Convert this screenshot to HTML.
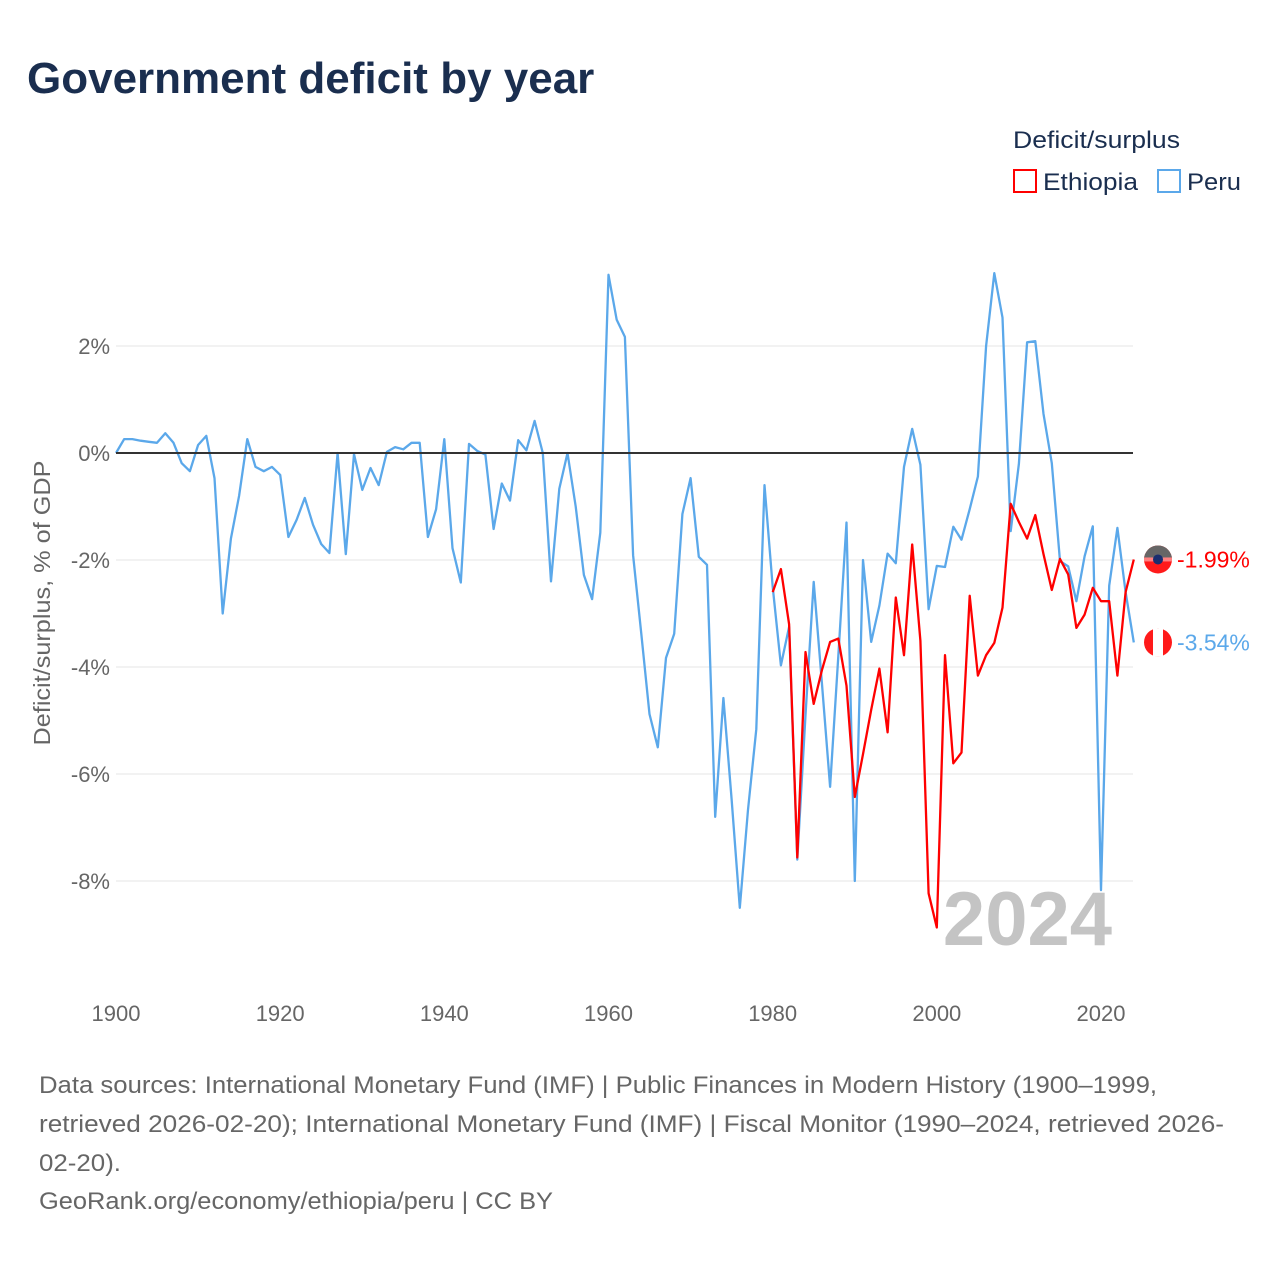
<!DOCTYPE html>
<html><head><meta charset="utf-8">
<style>
body{margin:0;background:#fff;width:1280px;height:1280px;overflow:hidden;font-family:"Liberation Sans",sans-serif;}
svg{display:block}
</style></head>
<body>
<svg id="chart" width="1280" height="1280" xmlns="http://www.w3.org/2000/svg">
<text x="27" y="93" font-size="44" font-weight="bold" fill="#1a2e4f">Government deficit by year</text>
<g>
<text x="1013" y="148" font-size="24" fill="#1a2e4f" textLength="167" lengthAdjust="spacingAndGlyphs">Deficit/surplus</text>
<rect x="1014" y="170" width="22" height="22" fill="none" stroke="#ff0000" stroke-width="2"/>
<text x="1043" y="190" font-size="24" fill="#1a2e4f" textLength="95" lengthAdjust="spacingAndGlyphs">Ethiopia</text>
<rect x="1158" y="170" width="22" height="22" fill="none" stroke="#5ba8ea" stroke-width="2"/>
<text x="1187" y="190" font-size="24" fill="#1a2e4f" textLength="54" lengthAdjust="spacingAndGlyphs">Peru</text>
</g>
<g id="grid"></g>
<text x="1112" y="945" font-size="76" font-weight="bold" fill="#c4c4c4" text-anchor="end">2024</text>
<g id="series"></g>
<g id="axes"></g>
<text transform="translate(50,603) rotate(-90)" font-size="23" fill="#666" text-anchor="middle" textLength="285" lengthAdjust="spacingAndGlyphs">Deficit/surplus, % of GDP</text>
<g font-size="24" fill="#666">
<text x="39" y="1093" textLength="1118" lengthAdjust="spacingAndGlyphs">Data sources: International Monetary Fund (IMF) | Public Finances in Modern History (1900–1999,</text>
<text x="39" y="1132" textLength="1185" lengthAdjust="spacingAndGlyphs">retrieved 2026-02-20); International Monetary Fund (IMF) | Fiscal Monitor (1990–2024, retrieved 2026-</text>
<text x="39" y="1171" textLength="82" lengthAdjust="spacingAndGlyphs">02-20).</text>
<text x="39" y="1209" textLength="514" lengthAdjust="spacingAndGlyphs">GeoRank.org/economy/ethiopia/peru | CC BY</text>
</g>
</svg>
<script>
const peruYears=[];for(let y=1900;y<=2024;y++)peruYears.push(y);
const peruValues=[0,0.26,0.26,0.23,0.21,0.19,0.37,0.19,-0.19,-0.34,0.15,0.32,-0.47,-3.0,-1.6,-0.8,0.26,-0.26,-0.34,-0.26,
-0.41,-1.57,-1.25,-0.84,-1.34,-1.7,-1.87,0,-1.89,-0.02,-0.69,-0.28,-0.6,0.02,0.11,0.07,0.19,0.19,-1.57,-1.05,
0.26,-1.78,-2.42,0.17,0.04,-0.03,-1.42,-0.57,-0.89,0.24,0.05,0.6,0,-2.4,-0.67,0,-1.0,-2.28,-2.73,-1.49,
3.33,2.49,2.17,-1.91,-3.38,-4.88,-5.5,-3.83,-3.38,-1.14,-0.47,-1.94,-2.09,-6.8,-4.58,-6.47,-8.5,-6.67,-5.16,-0.6,
-2.5,-3.97,-3.25,-7.6,-4.9,-2.41,-4.3,-6.24,-3.8,-1.3,-8.0,-2.0,-3.53,-2.85,-1.88,-2.06,-0.26,0.45,-0.22,-2.92,
-2.11,-2.13,-1.38,-1.62,-1.05,-0.44,2.0,3.36,2.53,-1.46,-0.2,2.07,2.09,0.73,-0.19,-2.02,-2.12,-2.77,-1.93,-1.37,
-8.17,-2.48,-1.4,-2.6,-3.54];
const ethYears=[];for(let y=1980;y<=2024;y++)ethYears.push(y);
const ethValues=[-2.6,-2.17,-3.2,-7.56,-3.72,-4.69,-4.06,-3.53,-3.47,-4.35,-6.43,-5.63,-4.8,-4.03,-5.22,-2.7,-3.78,-1.71,-3.51,-8.23,
-8.87,-3.78,-5.8,-5.6,-2.67,-4.16,-3.78,-3.55,-2.89,-0.95,-1.29,-1.6,-1.16,-1.89,-2.56,-1.98,-2.27,-3.27,-3.02,-2.52,
-2.77,-2.77,-4.16,-2.6,-1.99];
const yTicks=[2,0,-2,-4,-6,-8];
const xTicks=[1900,1920,1940,1960,1980,2000,2020];
const NS="http://www.w3.org/2000/svg";
const X=yr=>116+(yr-1900)*(985/120);
const Y=v=>453-v*53.5;
const grid=document.getElementById('grid'),axes=document.getElementById('axes'),series=document.getElementById('series');
function mk(tag,attrs,parent){const e=document.createElementNS(NS,tag);for(const k in attrs)e.setAttribute(k,attrs[k]);parent.appendChild(e);return e;}
yTicks.forEach(v=>{
  if(v!==0){const l=mk('line',{x1:116,x2:1133,y1:Y(v),y2:Y(v),stroke:'#e6e6e6','stroke-width':1},grid);
  
  }
  const t=mk('text',{x:110,y:Y(v)+8,'font-size':22,fill:'#666','text-anchor':'end'},axes);
  t.textContent=v+'%';
  
  
});
const zl=mk('line',{x1:116,x2:1133,y1:Y(0),y2:Y(0),stroke:'#333','stroke-width':2},axes);


xTicks.forEach(yr=>{
  const t=mk('text',{x:X(yr),y:1021,'font-size':22,fill:'#666','text-anchor':'middle'},axes);
  t.textContent=yr;
  
  
});
function line(years,vals,color,name){
  const d=years.map((y,i)=>(i?'L':'M')+X(y).toFixed(1)+','+Y(vals[i]).toFixed(1)).join('');
  const p=mk('path',{d:d,fill:'none',stroke:color,'stroke-width':2.3,'stroke-linejoin':'round'},series);
  
  
}
line(peruYears,peruValues,'#5ba8ea','peru-line');
line(ethYears,ethValues,'#ff0000','ethiopia-line');
const ey=Y(ethValues[ethValues.length-1]),py=Y(peruValues[peruValues.length-1]);
const ef=mk('g',{},series);


mk('circle',{cx:1158,cy:ey,r:14,fill:'#ff1a1a'},ef);
mk('path',{d:`M1144,${ey} A14,14 0 0 1 1172,${ey} Z`,fill:'#666'},ef);
mk('rect',{x:1144,y:ey-2,width:28,height:4,fill:'#ff8080'},ef);
mk('circle',{cx:1158,cy:ey,r:5,fill:'#1a2e6f'},ef);
const et=mk('text',{x:1177,y:ey+8,'font-size':23,fill:'#ff0000'},series);
et.textContent='-1.99%';


const pf=mk('g',{},series);


mk('circle',{cx:1158,cy:py,r:14,fill:'#ff1a1a'},pf);
mk('rect',{x:1153,y:py-14,width:10,height:28,fill:'#fff'},pf);
const pt=mk('text',{x:1177,y:py+8,'font-size':23,fill:'#5ba8ea'},series);
pt.textContent='-3.54%';


</script>
</body></html>
